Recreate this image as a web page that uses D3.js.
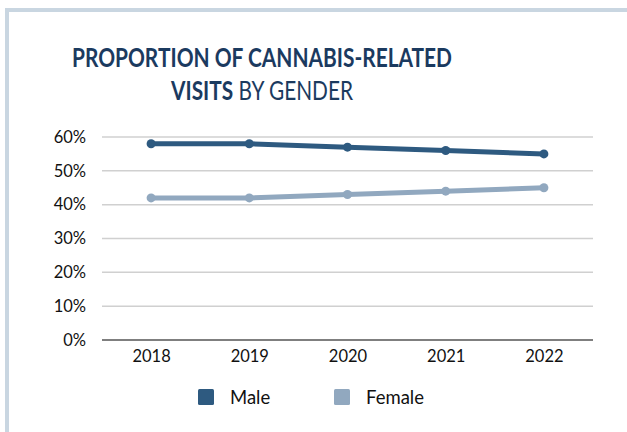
<!DOCTYPE html>
<html>
<head>
<meta charset="utf-8">
<script src="https://cdn.jsdelivr.net/npm/d3@7"></script>
<style>
  html, body { margin: 0; padding: 0; background: #fff; }
  svg { display: block; }
</style>
</head>
<body>
<svg id="chart" width="627" height="432"></svg>
<script>
// Share of cannabis-related visits, by gender and year
const years = ["2018", "2019", "2020", "2021", "2022"];
const maleValues = [0.58, 0.58, 0.57, 0.56, 0.55];
const femaleValues = [0.42, 0.42, 0.43, 0.44, 0.45];
const yTicks = [0, 0.1, 0.2, 0.3, 0.4, 0.5, 0.6];
const seriesNames = ["Male", "Female"];

const colors = { Male: "#2e5a80", Female: "#91a8bf" };
const font = "Lato, 'Open Sans', sans-serif";

const svg = d3.select("#chart");

// Frame: a pale band across the top and down the left side
svg.append("rect").attr("x", 5).attr("y", 8).attr("width", 622).attr("height", 4).attr("fill", "#c9d6e1");
svg.append("rect").attr("x", 5).attr("y", 8).attr("width", 4).attr("height", 424).attr("fill", "#c9d6e1");

// Title: each line centred and squeezed horizontally to a narrow, Calibri-like width
const titleCx = 262;
function titleLine(baseline, targetWidth, parts) {
  const g = svg.append("g");
  const t = g.append("text")
    .attr("text-anchor", "middle")
    .attr("fill", "#1b3a5f")
    .style("font-family", font).style("font-size", "26.5px");
  parts.forEach(p => t.append("tspan").style("font-weight", p.bold ? "bold" : "normal").text(p.text));
  const natural = t.node().getComputedTextLength();
  g.attr("transform", `translate(${titleCx},${baseline}) scale(${targetWidth / natural},1)`);
}
titleLine(67, 380, [{ text: "PROPORTION OF CANNABIS-RELATED", bold: true }]);
titleLine(99.5, 182, [{ text: "VISITS", bold: true }, { text: " BY GENDER", bold: false }]);

// Scales
const x = d3.scalePoint().domain(years).range([102, 593]).padding(0.5);
const y = d3.scaleLinear().domain([0, 0.6]).range([340, 137]);

// Gridlines
svg.append("g")
  .selectAll("line")
  .data(yTicks.filter(d => d > 0))
  .join("line")
  .attr("x1", 102).attr("x2", 593)
  .attr("y1", d => y(d)).attr("y2", d => y(d))
  .attr("stroke", "#d0d0d0").attr("stroke-width", 1.5);

// Y axis labels
const yAxis = d3.axisLeft(y).tickValues(yTicks).tickFormat(d3.format(".0%")).tickSize(0).tickPadding(0);
svg.append("g")
  .attr("transform", "translate(86,0)")
  .call(yAxis)
  .call(g => g.select(".domain").remove())
  .call(g => g.selectAll("text")
    .attr("fill", "#111")
    .style("font-family", font).style("font-size", "16.5px"));

// X axis baseline and labels
const xAxis = d3.axisBottom(x).tickSize(0).tickPadding(10);
svg.append("g")
  .attr("transform", "translate(0,340)")
  .call(xAxis)
  .call(g => g.select(".domain").attr("d", "M102,0H593").attr("stroke", "#7f7f7f").attr("stroke-width", 2))
  .call(g => g.selectAll("text")
    .attr("fill", "#111")
    .style("font-family", font).style("font-size", "16.5px"));

// Series lines with markers
const series = [
  { name: "Male", values: maleValues },
  { name: "Female", values: femaleValues }
];
const line = d3.line().x((d, i) => x(years[i])).y(d => y(d));

const sg = svg.append("g").selectAll("g").data(series).join("g");
sg.append("path")
  .attr("d", d => line(d.values))
  .attr("fill", "none")
  .attr("stroke", d => colors[d.name])
  .attr("stroke-width", 5)
  .attr("stroke-linejoin", "round");
sg.selectAll("circle")
  .data(d => d.values.map((v, i) => ({ v, i, name: d.name })))
  .join("circle")
  .attr("cx", d => x(years[d.i]))
  .attr("cy", d => y(d.v))
  .attr("r", 4.5)
  .attr("fill", d => colors[d.name]);

// Legend
const legendX = { Male: 198, Female: 334 };
const lg = svg.append("g").selectAll("g").data(seriesNames).join("g")
  .attr("transform", d => `translate(${legendX[d]},389)`);
lg.append("rect")
  .attr("width", 16).attr("height", 16).attr("rx", 1.5)
  .attr("fill", d => colors[d]);
lg.append("text")
  .attr("x", 32).attr("y", 15)
  .attr("fill", "#111")
  .style("font-family", font).style("font-size", "18.5px")
  .text(d => d);
</script>
</body>
</html>
